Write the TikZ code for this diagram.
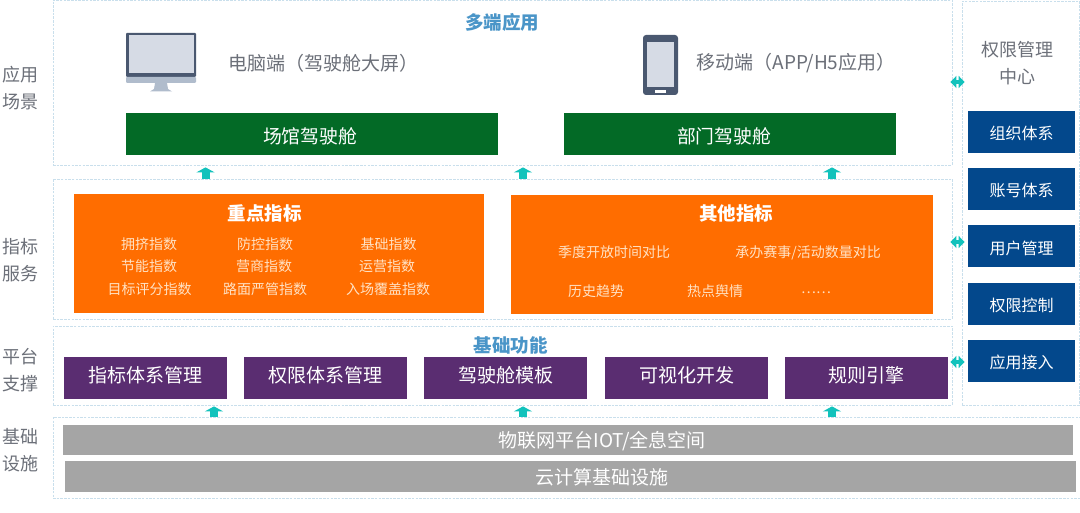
\documentclass[tikz,border=0pt]{standalone}
\usepackage{fontspec}
\setmainfont{Noto Sans CJK SC}
\usetikzlibrary{arrows.meta,calc}
\definecolor{panelline}{HTML}{C9DFEC}
\definecolor{labelgray}{HTML}{6C7079}
\definecolor{titleblue}{HTML}{4A95C8}
\definecolor{deckgreen}{HTML}{036A26}
\definecolor{idxorange}{HTML}{FF6D00}
\definecolor{idxtext}{HTML}{FFE2C4}
\definecolor{basepurple}{HTML}{5A2D71}
\definecolor{infragray}{HTML}{A5A5A5}
\definecolor{permblue}{HTML}{03488C}
\definecolor{linkteal}{HTML}{12C2BC}
\definecolor{icondark}{HTML}{4A5870}
\definecolor{iconlight}{HTML}{D6DBE5}
\definecolor{iconmid}{HTML}{B0BCCC}
\newcommand{\fsz}[1]{\fontsize{#1}{#1}\selectfont}
\tikzset{
  x=1pt,y=-1pt,
  panel/.style={draw=panelline,dashed,line width=0.8pt,dash pattern=on 2.5pt off 1.2pt,fill=white,inner sep=0pt},
  block/.style={inner sep=0pt,text=white,font=\fsz{18}},
  green box/.style={block,fill=deckgreen},
  green text/.style={inner sep=0pt,text=white,font=\fsz{18.8}},
  orange box/.style={block,fill=idxorange},
  purple box/.style={block,fill=basepurple,font=\fsz{19},minimum width=163pt,minimum height=42pt,text height=8.4pt,text depth=0pt},
  gray box/.style={block,fill=infragray},
  gray text/.style={inner sep=0pt,text=white,font=\fsz{19}},
  blue box/.style={block,fill=permblue,font=\fsz{16},minimum width=107pt,minimum height=42pt,text height=15.2pt,text depth=0pt},
  side label/.style={text=labelgray,font=\fontsize{18}{27}\selectfont,align=center,inner sep=0pt},
  head title/.style={text=titleblue,font=\bfseries\fsz{18.5},inner sep=0pt},
  idx title/.style={text=white,font=\bfseries\fsz{18.5},inner sep=0pt},
  idx item/.style={text=idxtext,font=\fsz{14},inner sep=0pt},
  client text/.style={text=labelgray,font=\fsz{19},inner sep=0pt},
  up link/.style={draw=linkteal,line width=8pt,-{Triangle[length=5pt,width=18pt,fill=linkteal]}},
  both link/.style={draw=linkteal,line width=4pt,{Triangle[length=6pt,width=12pt,fill=linkteal]}-{Triangle[length=6pt,width=12pt,fill=linkteal]}},
}
\begin{document}
\begin{tikzpicture}
\useasboundingbox (0,0) rectangle (1080,513);
\fill[white] (0,0) rectangle (1080,513);
% panels
\node[panel,minimum width=899pt,minimum height=165pt] (app) at (502.5,82.5) {};
\node[panel,minimum width=899pt,minimum height=140pt] (idx) at (502.5,249) {};
\node[panel,minimum width=899pt,minimum height=79pt] (plat) at (502.5,365.5) {};
\node[panel,minimum width=1027pt,minimum height=81pt] (infra) at (566.5,457.5) {};
\node[panel,minimum width=117pt,minimum height=404pt] (perm) at (1020.5,203) {};
% left labels
\node[side label] (l1) at (20,88.5) {应用\\场景};
\node[side label] (l2) at (20,260.5) {指标\\服务};
\node[side label] (l3) at (20,370.5) {平台\\支撑};
\node[side label] (l4) at (20,450.5) {基础\\设施};
% application layer
\node[head title] (t1) at (502,22) {多端应用};
\fill[icondark,rounded corners=1pt] (126,33) rectangle (196,77);
\fill[iconlight] (128.5,35.5) rectangle (193.5,73.5);
\fill[iconmid,rounded corners=1pt] (126,77) rectangle (196,83);
\fill[iconmid] (155,83) -- (167,83) -- (168,89) -- (172,91.5) -- (150,91.5) -- (154,89) -- cycle;
\node[client text] (c1) at (323,63) {电脑端（驾驶舱大屏）};
\fill[icondark,rounded corners=3pt] (643,35) rectangle (678,95);
\fill[iconlight] (646.5,42) rectangle (674,87);
\fill[white] (655,90) rectangle (666,93);
\node[client text] (c2) at (796,63) {移动端（APP/H5应用）};
\node[green box,minimum width=372pt,minimum height=42pt] (g1) at (312,134) {};
\node[green box,minimum width=332pt,minimum height=42pt] (g2) at (730,134) {};
\node[green text] (g1t) at (310,136) {场馆驾驶舱};
\node[green text] (g2t) at (724,136) {部门驾驶舱};
% index layer
\node[orange box,minimum width=410pt,minimum height=119pt] (o1) at (279,253.5) {};
\node[orange box,minimum width=422pt,minimum height=119pt] (o2) at (722,254.5) {};
\node[idx title] (t2) at (264.5,213) {重点指标};
\node[idx title] (t3) at (736,213) {其他指标};
\node[idx item] (i1) at (149,244.5) {拥挤指数};
\node[idx item] (i2) at (265,244.5) {防控指数};
\node[idx item] (i3) at (388.5,244.5) {基础指数};
\node[idx item] (i4) at (149,266.5) {节能指数};
\node[idx item] (i5) at (264,266.5) {营商指数};
\node[idx item] (i6) at (387,266.5) {运营指数};
\node[idx item] (i7) at (149.5,289.5) {目标评分指数};
\node[idx item] (i8) at (265,289.5) {路面严管指数};
\node[idx item] (i9) at (388,289.5) {入场覆盖指数};
\node[idx item] (j1) at (614,252.5) {季度开放时间对比};
\node[idx item] (j2) at (808,252.5) {承办赛事/活动数量对比};
\node[idx item] (j3) at (596,291.5) {历史趋势};
\node[idx item] (j4) at (715,291.5) {热点舆情};
\node[idx item] (j5) at (816,293) {……};
% platform layer
\node[head title] (t4) at (510.5,345) {基础功能};
\node[purple box] (p1) at (145.5,378) {指标体系管理};
\node[purple box] (p2) at (325.5,378) {权限体系管理};
\node[purple box] (p3) at (505.5,378) {驾驶舱模板};
\node[purple box] (p4) at (686.5,378) {可视化开发};
\node[purple box] (p5) at (866.5,378) {规则引擎};
% infrastructure
\node[gray box,minimum width=1010pt,minimum height=30pt] (b1) at (568,440) {};
\node[gray box,minimum width=1011pt,minimum height=31pt] (b2) at (570.5,476.5) {};
\node[gray text] (b1t) at (602,441) {物联网平台IOT/全息空间};
\node[gray text] (b2t) at (602,477.5) {云计算基础设施};
% permission column
\node[side label] (t5) at (1017,63.5) {权限管理\\中心};
\node[blue box] (q1) at (1021.5,132) {组织体系};
\node[blue box] (q2) at (1021.5,189) {账号体系};
\node[blue box] (q3) at (1021.5,246.5) {用户管理};
\node[blue box] (q4) at (1021.5,304) {权限控制};
\node[blue box] (q5) at (1021.5,361) {应用接入};
% links
\coordinate (u1) at (205.5,0);
\coordinate (u2) at (523,0);
\coordinate (u3) at (832,0);
\coordinate (u4) at (214,0);
\draw[up link] (u1 |- idx.north) -- ($(u1 |- app.south)+(0,2)$);
\draw[up link] (u2 |- idx.north) -- ($(u2 |- app.south)+(0,2)$);
\draw[up link] (u3 |- idx.north) -- ($(u3 |- app.south)+(0,2)$);
\draw[up link] (u4 |- infra.north) -- ($(u4 |- plat.south)+(0,1)$);
\draw[up link] (u2 |- infra.north) -- ($(u2 |- plat.south)+(0,1)$);
\draw[up link] (u3 |- infra.north) -- ($(u3 |- plat.south)+(0,1)$);
\coordinate (d1) at (0,82);
\coordinate (d2) at (0,242);
\coordinate (d3) at (0,362);
\draw[both link] ($(app.east |- d1)+(-2,0)$) -- ($(perm.west |- d1)+(3,0)$);
\draw[both link] ($(idx.east |- d2)+(-2,0)$) -- ($(perm.west |- d2)+(3,0)$);
\draw[both link] ($(plat.east |- d3)+(-2,0)$) -- ($(perm.west |- d3)+(3,0)$);
\end{tikzpicture}
\end{document}
